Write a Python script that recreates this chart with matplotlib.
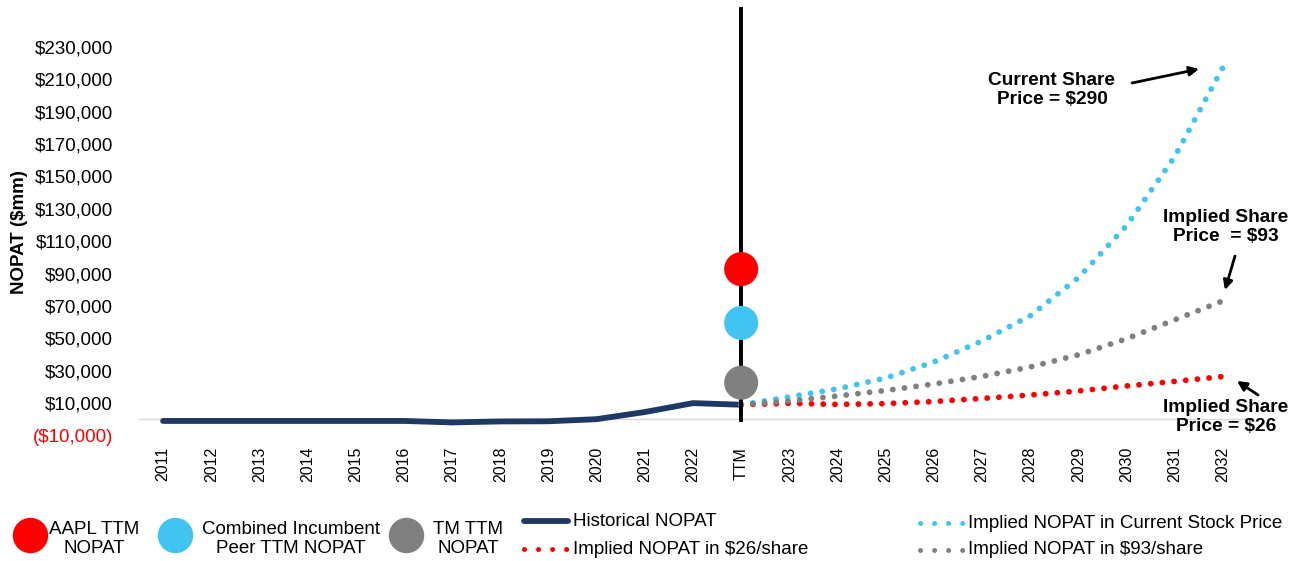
import matplotlib
matplotlib.use("Agg")
import matplotlib.pyplot as plt
from matplotlib.lines import Line2D
import numpy as np

plt.rcParams['font.family'] = ['Liberation Sans', 'DejaVu Sans']

# ---- data ($mm) ----
categories = ['2011', '2012', '2013', '2014', '2015', '2016', '2017', '2018',
              '2019', '2020', '2021', '2022', 'TTM', '2023', '2024', '2025',
              '2026', '2027', '2028', '2029', '2030', '2031', '2032']

historical_nopat = [-900, -900, -900, -900, -900, -900, -1800, -1200,
                    -1100, 200, 4600, 10100, 9100]

# projections run from TTM through 2032
implied_current_price = [9100, 14000, 18900, 25600, 35500, 48500, 64000,
                         87500, 119600, 162200, 217200]
implied_93_share = [9100, 11400, 14500, 17900, 21900, 26600, 32400, 39900,
                    49800, 61500, 73200]
implied_26_share = [9100, 10000, 9300, 9800, 11100, 13000, 15100, 17600,
                    20700, 23500, 26500]

ttm_names = ['AAPL TTM\nNOPAT', 'Combined Incumbent\nPeer TTM NOPAT', 'TM TTM\nNOPAT']
ttm_values = [92800, 59600, 22700]

y_ticks = list(range(-10000, 230001, 20000))

# ---- style ----
RED = '#FF0000'
BLUE = '#41C4F2'
GRAY = '#808080'
NAVY = '#1F3864'
W, H = 1306, 561

fig = plt.figure(figsize=(W / 100, H / 100), dpi=100)
ax = fig.add_axes([139 / W, 125.3 / H, 1108 / W, 428.7 / H])

x = np.arange(len(categories))
ttm_idx = categories.index('TTM')
proj_x = x[ttm_idx:]

ax.axhline(0, color='#D9D9D9', lw=1.0, zorder=1)
ax.plot(x[:ttm_idx + 1], historical_nopat, color=NAVY, lw=4.2,
        solid_joinstyle='round', solid_capstyle='round', zorder=3)

dotted = dict(lw=4.2, linestyle=(0, (0.01, 2.0)), dash_capstyle='round')
ax.plot(proj_x, implied_26_share, color=RED, zorder=4, **dotted)
ax.plot(proj_x, implied_current_price, color=BLUE, zorder=5, **dotted)
ax.plot(proj_x, implied_93_share, color=GRAY, zorder=6, **dotted)

ax.set_xlim(-0.5, len(categories) - 0.5)
ax.set_ylim(-10000, 254500)
ax.vlines(ttm_idx, -1500, 254500, color='black', lw=2.8, zorder=7)

ttm_colors = [RED, BLUE, GRAY]
ax.scatter([ttm_idx] * len(ttm_values), ttm_values, s=24.5 ** 2,
           c=ttm_colors, linewidths=0, zorder=8)

for s in ax.spines.values():
    s.set_visible(False)

ax.set_xticks(x)
ax.set_xticklabels(categories, rotation=90, fontsize=11.5)
ax.set_yticks(y_ticks)
ax.set_yticklabels([f'${v:,.0f}' if v >= 0 else f'(${-v:,.0f})' for v in y_ticks],
                   fontsize=13.5)
ax.tick_params(axis='both', length=0)
ax.tick_params(axis='y', pad=18.7)
ax.tick_params(axis='x', pad=8)
for lbl, v in zip(ax.get_yticklabels(), y_ticks):
    if v < 0:
        lbl.set_color(RED)

ax.set_ylabel('NOPAT ($mm)', fontsize=13.5, fontweight='bold', va='center')
ax.yaxis.set_label_coords((20 - 139) / 1108, (436 - 232) / 429)


def fx(px):
    return px / W


def fy(py):
    return 1 - py / H


# ---- callouts ----
arrow = dict(arrowstyle='-|>', color='black', lw=2, mutation_scale=14,
             shrinkA=0, shrinkB=0)
callouts = [
    ('Current Share\nPrice = $290', (1052, 90), (1132, 83), (1199, 69)),
    ('Implied Share\nPrice  = $93', (1226, 227), (1235, 256), (1225, 290)),
    ('Implied Share\nPrice = $26', (1226, 417), (1258, 395), (1237, 381)),
]
for text, (tx, ty), (ax0, ay0), (ax1, ay1) in callouts:
    fig.text(fx(tx), fy(ty), text, ha='center', va='center', fontsize=13.8,
             fontweight='bold', linespacing=1.15)
    ax.annotate('', xy=(fx(ax1), fy(ay1)), xycoords='figure fraction',
                xytext=(fx(ax0), fy(ay0)), textcoords='figure fraction',
                arrowprops=arrow)

# ---- legend ----
legend_fs = 13.5
for name, color, cx, tx in zip(ttm_names, ttm_colors, [30, 175, 406], [94, 291, 468]):
    fig.add_artist(Line2D([fx(cx)], [fy(535)], marker='o', markersize=25.5,
                          color=color, markeredgewidth=0, linestyle='none',
                          transform=fig.transFigure))
    fig.text(fx(tx), fy(539), name, ha='center', va='center',
             fontsize=legend_fs, linespacing=1.2)

fig.add_artist(Line2D([fx(524), fx(568)], [fy(521), fy(521)], color=NAVY, lw=4.2,
                      solid_capstyle='round', transform=fig.transFigure))
fig.text(fx(573), fy(521), 'Historical NOPAT', ha='left', va='center', fontsize=legend_fs)

legend_dots = dict(lw=3.6, linestyle=(0, (0.01, 2.8)), dash_capstyle='round',
                   transform=fig.transFigure)
fig.add_artist(Line2D([fx(524), fx(568.5)], [fy(549), fy(549)], color=RED, **legend_dots))
fig.text(fx(573), fy(549), 'Implied NOPAT in $26/share', ha='left', va='center',
         fontsize=legend_fs)

fig.add_artist(Line2D([fx(920), fx(964.5)], [fy(523), fy(523)], color=BLUE, **legend_dots))
fig.text(fx(968), fy(523), 'Implied NOPAT in Current Stock Price', ha='left',
         va='center', fontsize=legend_fs)

fig.add_artist(Line2D([fx(920), fx(964.5)], [fy(550), fy(550)], color=GRAY, **legend_dots))
fig.text(fx(968), fy(550), 'Implied NOPAT in $93/share', ha='left', va='center',
         fontsize=legend_fs)

fig.savefig('out.png', dpi=100)
